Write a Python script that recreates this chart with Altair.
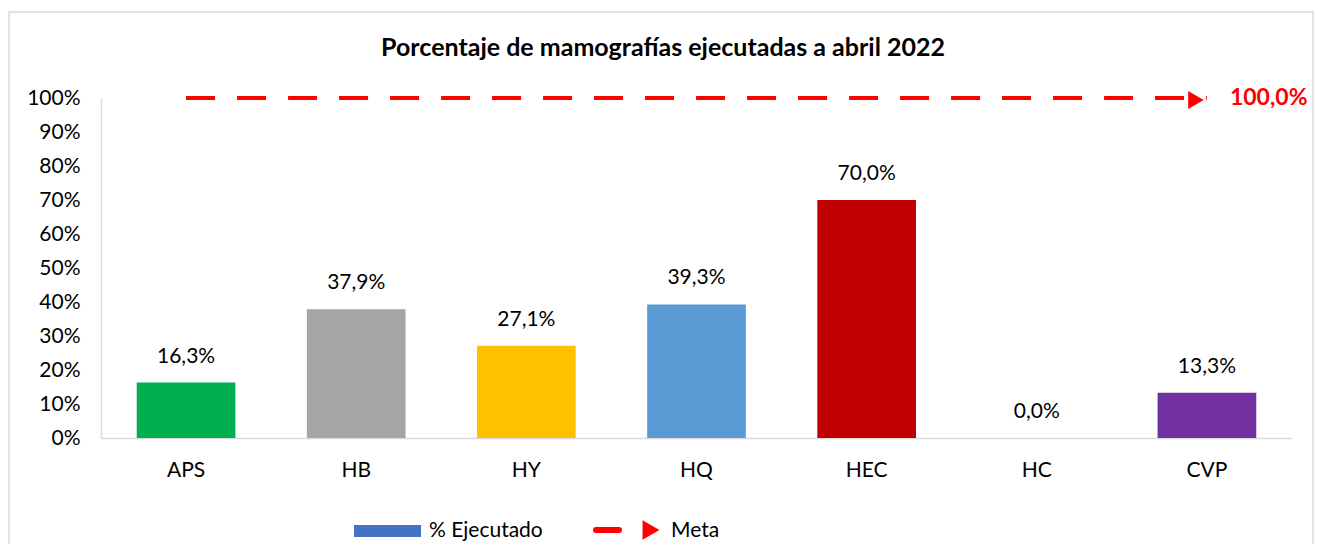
import altair as alt
import pandas as pd

categories = ["APS", "HB", "HY", "HQ", "HEC", "HC", "CVP"]
executed = [0.163, 0.379, 0.271, 0.393, 0.700, 0.000, 0.133]
meta = [1.0, 1.0, 1.0, 1.0, 1.0, 1.0, 1.0]
colors = ["#00B050", "#A5A5A5", "#FFC000", "#5B9BD5", "#C00000", "#FFFFFF", "#7030A0"]
y_ticks = [0, 0.1, 0.2, 0.3, 0.4, 0.5, 0.6, 0.7, 0.8, 0.9, 1.0]

FONT = "Lato"
FS = 21

df = pd.DataFrame({
    "cat": categories,
    "val": executed,
    "meta": meta,
    "color": colors,
})
df["label"] = df["val"].map(lambda v: f"{v*100:.1f}%".replace(".", ","))
df["meta_label"] = df["meta"].map(lambda v: f"{v*100:.1f}%".replace(".", ","))

W, H = 1191, 340

xaxis = alt.Axis(title=None, labelAngle=0, labelFontSize=FS, labelFont=FONT,
                 labelColor="#000000", labelPadding=21, ticks=False,
                 domainColor="#D9D9D9", domainWidth=1.5)
yaxis = alt.Axis(title=None, values=y_ticks, format=".0%", grid=False, ticks=False,
                 labelOverlap=False, labelFontSize=FS, labelFont=FONT,
                 labelColor="#000000", labelPadding=21,
                 domainColor="#D9D9D9", domainWidth=1.5)
xscale = alt.Scale(paddingInner=0.42, paddingOuter=0.21)
yscale = alt.Scale(domain=[0, 1])


def X():
    return alt.X("cat:N", sort=categories, scale=xscale, axis=xaxis)


def Y(field):
    return alt.Y(field, scale=yscale, axis=yaxis)


base = alt.Chart(df)

bars = base.mark_bar().encode(
    x=X(),
    y=Y("val:Q"),
    color=alt.Color("color:N", scale=None),
)

labels = base.mark_text(fontSize=FS, font=FONT, color="#000000", baseline="middle", dy=-26).encode(
    x=X(),
    y=Y("val:Q"),
    text="label:N",
)

meta_line = base.mark_line(color="#FF0000", strokeWidth=4, strokeDash=[29, 22]).encode(
    x=X(),
    y=Y("meta:Q"),
)

last = df[df["cat"] == categories[-1]]
arrow = alt.Chart(last).mark_point(shape="triangle-right", filled=True, color="#FF0000",
                                   size=320, opacity=1, yOffset=2, xOffset=-11).encode(
    x=X(),
    y=Y("meta:Q"),
)
meta_text = alt.Chart(last).mark_text(fontSize=23, font=FONT, fontWeight="bold", color="#FF0000",
                                      align="left", baseline="middle", dx=23).encode(
    x=X(),
    y=Y("meta:Q"),
    text="meta_label:N",
)

one = pd.DataFrame({"k": [0]})
deco = alt.Chart(one)

title = deco.mark_text(text="Porcentaje de mamografías ejecutadas a abril 2022", fontSize=25,
                       font=FONT, fontWeight="bold", color="#000000", align="center",
                       baseline="middle").encode(x=alt.value(562), y=alt.value(-50))

border = deco.mark_rect(fill=None, fillOpacity=0, stroke="#D9D9D9", strokeWidth=1.5).encode(
    x=alt.value(-92), x2=alt.value(1212), y=alt.value(-86), y2=alt.value(480))

leg_rect = deco.mark_rect(color="#4472C4").encode(
    x=alt.value(253), x2=alt.value(320), y=alt.value(427), y2=alt.value(439))
leg_text1 = deco.mark_text(text="% Ejecutado", fontSize=FS, font=FONT, color="#000000",
                           align="left", baseline="middle").encode(x=alt.value(328), y=alt.value(433))
leg_dash = deco.mark_rule(color="#FF0000", strokeWidth=6, strokeCap="round").encode(
    x=alt.value(495), x2=alt.value(518), y=alt.value(432))
leg_tri = deco.mark_point(shape="triangle-right", filled=True, color="#FF0000", size=380,
                          opacity=1).encode(x=alt.value(550), y=alt.value(432))
leg_text2 = deco.mark_text(text="Meta", fontSize=FS, font=FONT, color="#000000",
                           align="left", baseline="middle").encode(x=alt.value(570), y=alt.value(433))

chart = alt.layer(border, bars, labels, meta_line, arrow, meta_text, title,
                  leg_rect, leg_text1, leg_dash, leg_tri, leg_text2).properties(
    width=W, height=H,
    background="#FFFFFF",
    autosize=alt.AutoSizeParams(type="none"),
    padding={"left": 93, "top": 90, "right": 22, "bottom": 106},
).configure_view(strokeWidth=0, stroke="transparent")

chart.save("out.html", embed_options={"renderer": "svg", "actions": False})
